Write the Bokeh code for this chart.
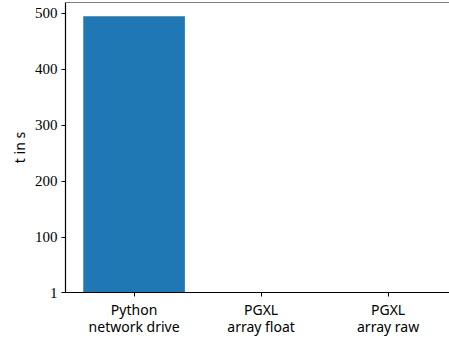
from bokeh.plotting import figure
from bokeh.models import FixedTicker, Range1d, Span
from bokeh.embed import file_html
from bokeh.resources import INLINE

labels = ["Python\nnetwork drive", "PGXL\narray float", "PGXL\narray raw"]
times = [494.6, 2.0, 1.5]
y_ticks = [1, 100, 200, 300, 400, 500]

x = list(range(len(labels)))

p = figure(width=449, height=338, output_backend="svg", toolbar_location=None,
           x_range=Range1d(-0.54, 2.4835), y_range=Range1d(1, 519.3),
           min_border_left=65, min_border_top=2, min_border_bottom=45,
           min_border_right=0)
p.outline_line_color = None
p.xgrid.visible = False
p.ygrid.visible = False
p.background_fill_color = "white"
p.border_fill_color = "white"

p.vbar(x=x, top=times, bottom=0, width=0.8, color="#1f77b4", line_color=None)

p.add_layout(Span(location=519.3, dimension="width", line_color="black", line_width=1.2))

xa = p.xaxis[0]
xa.ticker = FixedTicker(ticks=x)
xa.major_label_overrides = {i: l for i, l in enumerate(labels)}
xa.minor_tick_line_color = None
xa.major_tick_in = 0
xa.major_tick_out = 4
xa.axis_line_color = "black"
xa.axis_line_width = 1.2
xa.major_label_text_font = "Noto Sans"
xa.major_label_text_font_size = "14px"
xa.major_label_text_line_height = 0.9
xa.major_label_text_color = "black"
xa.major_label_standoff = 3

ya = p.yaxis[0]
ya.ticker = FixedTicker(ticks=y_ticks)
ya.minor_tick_line_color = None
ya.major_tick_in = 0
ya.major_tick_out = 4
ya.axis_line_color = "black"
ya.axis_line_width = 1.2
ya.major_label_text_font = "Liberation Serif"
ya.major_label_text_font_size = "15px"
ya.major_label_text_color = "black"
ya.major_label_standoff = 4
ya.axis_label = "t in s"
ya.axis_label_text_font = "Noto Sans"
ya.axis_label_text_font_size = "14px"
ya.axis_label_text_font_style = "normal"
ya.axis_label_text_color = "black"
ya.axis_label_standoff = 3

open("out.html", "w").write(file_html(p, INLINE))
